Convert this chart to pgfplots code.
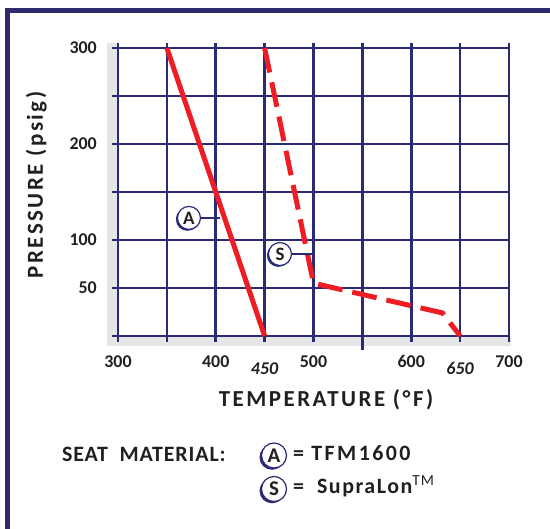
\documentclass[border=0pt]{standalone}
\usepackage{fontspec}
\setmainfont{Carlito}
\newfontfamily\spaced[LetterSpace=11]{Carlito}
\newfontfamily\midspaced[LetterSpace=7]{Carlito}
\newfontfamily\lightspaced[LetterSpace=4]{Carlito}
\usepackage{pgfplots}
\pgfplotsset{compat=1.18}
\definecolor{navy}{HTML}{2B2A75}
\definecolor{framec}{HTML}{2E2B6E}
\definecolor{valvered}{HTML}{EE1D25}
\definecolor{greyfill}{HTML}{E6E6E6}
\definecolor{ink}{HTML}{231F20}

\tikzset{
  badgeshadow/.style={circle, fill=navy, minimum size=23bp, inner sep=0pt},
  badge/.style={circle, fill=white, draw=navy, line width=1.2bp, minimum size=23bp,
    inner sep=0pt, text=ink, font=\fontsize{19}{20}\selectfont\bfseries},
}

\begin{document}
\begin{tikzpicture}[x=1bp,y=1bp]
\useasboundingbox (-118,-193) rectangle (432,336);
\draw[framec, line width=5.5bp] (-110.25,-200) |- (440,325.5);
\fill[greyfill] (-11,-10) -- (393,-10) -- (393,0) -- (0,0) -- (0,293) -- (-11,293) -- cycle;

\begin{axis}[
  at={(0,0)}, anchor=south west,
  width=391bp, height=292.8bp, scale only axis,
  xmin=300, xmax=700, ymin=0, ymax=305,
  axis line style={draw=none},
  xtick={300,350,...,700},
  xticklabels={300,,400,,500,,600,,700},
  ytick={0,50,...,300},
  yticklabels={,50,100,,200,,300},
  extra x ticks={450,650},
  extra x tick labels={450,650},
  extra x tick style={xticklabel style={font=\fontsize{18}{20}\selectfont\bfseries\itshape, yshift=-7bp}},
  grid=major,
  major grid style={navy, line width=2.6bp},
  tick style={navy, line width=2.6bp},
  tick align=outside,
  tick pos=left,
  major tick length=6bp,
  ticklabel style={font=\fontsize{18}{20}\selectfont\bfseries, text=ink},
  xticklabel style={anchor=base, inner sep=0pt, yshift=-26bp},
  yticklabel style={anchor=east, inner sep=0pt, xshift=-15bp},
  clip=false,
]
\addplot[valvered, line width=5bp] coordinates {(350,300) (450,0)};
\addplot[valvered, line width=5bp, dash pattern=on 25bp off 10bp] coordinates {(450,300) (500,55) (632,24) (650,0)};

\draw[navy, line width=2.6bp] (axis cs:550,0) -- ([yshift=-14bp]axis cs:550,0);

\draw[navy, line width=2bp] (axis cs:372.6,123) -- (axis cs:404.3,123);
\node[badgeshadow, xshift=-1.6bp, yshift=-1.4bp] at (axis cs:372.6,123) {};
\node[badge] at (axis cs:372.6,123) {A};
\draw[navy, line width=2bp] (axis cs:465.7,85.4) -- (axis cs:499.5,85.4);
\node[badgeshadow, xshift=-1.6bp, yshift=-1.4bp] at (axis cs:465.7,85.4) {};
\node[badge] at (axis cs:465.7,85.4) {S};
\end{axis}

% axis titles
\node[rotate=90, anchor=base, text=ink, font=\fontsize{23}{24}\spaced\bfseries] at (-75,151) {PRESSURE (psig)};
\node[anchor=base, text=ink, font=\fontsize{23}{24}\spaced\bfseries] at (208,-71) {TEMPERATURE (°F)};

% seat material key
\node[anchor=base west, inner sep=0pt, text=ink, font=\fontsize{22}{24}\lightspaced\bfseries] at (-56,-125) {SEAT\ \ MATERIAL:};
\node[badgeshadow, minimum size=25bp, xshift=-2bp, yshift=-1.8bp] at (156,-119.5) {};
\node[badge, minimum size=25bp, font=\fontsize{21}{22}\selectfont\bfseries] at (156,-119.5) {A};
\node[anchor=base west, inner sep=0pt, text=ink, font=\fontsize{22}{24}\spaced\bfseries] at (175,-124) {= TFM1600};
\node[badgeshadow, minimum size=25bp, xshift=-2bp, yshift=-1.8bp] at (156,-153) {};
\node[badge, minimum size=25bp, font=\fontsize{21}{22}\selectfont\bfseries] at (156,-153) {S};
\node[anchor=base west, inner sep=0pt, text=ink, font=\fontsize{22}{24}\midspaced\bfseries] at (175,-157) {=\ \ SupraLon\textsuperscript{\mdseries TM}};
\end{tikzpicture}
\end{document}
